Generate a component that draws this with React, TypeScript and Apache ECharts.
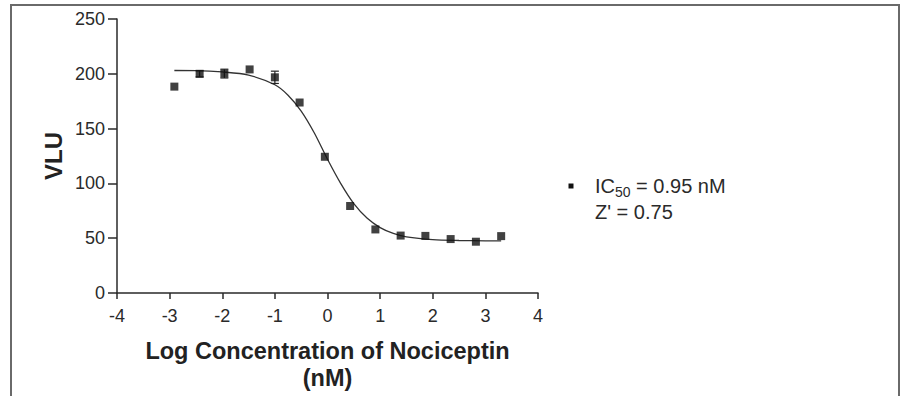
import React, { useEffect, useRef } from "react";
import * as echarts from "echarts";

const xValues = [-2.91, -2.43, -1.96, -1.48, -1.0, -0.53, -0.05, 0.43, 0.91, 1.39, 1.86, 2.34, 2.82, 3.3];
const yValues = [188.3, 200, 200.2, 204, 196.8, 173.8, 124.3, 79.4, 58, 52.4, 52.1, 49.2, 46.8, 51.9];

const errX = [-2.43, -1.96, -1.0];
const errLow = [197.2, 196.2, 191.2];
const errHigh = [202.8, 204.2, 202.4];

const curveX = [-2.91, -2.5, -2, -1.5, -1, -0.75, -0.5, -0.25, 0, 0.25, 0.5, 0.75, 1, 1.25, 1.5, 2, 2.5, 3, 3.3];
const curveY = [203, 202.9, 201.7, 198.8, 190, 180.5, 166, 146, 122, 100, 81.5, 68.4, 59.7, 54.4, 51.3, 48.7, 47.9, 47.6, 47.5];

const xTicks = { min: -4, max: 4, interval: 1 };
const yTicks = { min: 0, max: 250, interval: 50 };

const xTitle = "Log Concentration of Nociceptin\n(nM)";
const yTitle = "VLU";
const legendLine1 = "IC{sub|50} = 0.95 nM";
const legendLine2 = "Z' = 0.75";

const FONT = "'Liberation Sans', Arial, sans-serif";

export default function App() {
  const ref = useRef<HTMLDivElement>(null);
  useEffect(() => {
    if (!ref.current) return;
    const chart = echarts.init(ref.current, undefined, { renderer: "svg" });
    const points = xValues.map((x, i) => [x, yValues[i]]);
    const curve = curveX.map((x, i) => [x, curveY[i]]);
    const errs = errX.map((x, i) => [x, errLow[i], errHigh[i]]);
    chart.setOption({
      animation: false,
      backgroundColor: "#ffffff",
      textStyle: { fontFamily: FONT },
      grid: { left: 117, right: 367, top: 19, bottom: 95, containLabel: false },
      xAxis: {
        type: "value",
        min: xTicks.min,
        max: xTicks.max,
        interval: xTicks.interval,
        splitLine: { show: false },
        axisLine: { onZero: false, lineStyle: { color: "#2a2a2a", width: 1.5 } },
        axisTick: { show: true, length: 6, lineStyle: { color: "#2a2a2a", width: 1.5 } },
        axisLabel: { color: "#2a2a2a", fontSize: 18, margin: 14, fontFamily: FONT },
        name: xTitle,
        nameLocation: "middle",
        nameGap: 44,
        nameTextStyle: { fontSize: 23.5, fontWeight: "bold", color: "#222", lineHeight: 27, fontFamily: FONT },
      },
      yAxis: {
        type: "value",
        min: yTicks.min,
        max: yTicks.max,
        interval: yTicks.interval,
        splitLine: { show: false },
        axisLine: { show: true, onZero: false, lineStyle: { color: "#2a2a2a", width: 1.5 } },
        axisTick: { show: true, length: 9, lineStyle: { color: "#2a2a2a", width: 1.5 } },
        axisLabel: { color: "#2a2a2a", fontSize: 18, margin: 12, fontFamily: FONT },
        name: yTitle,
        nameLocation: "middle",
        nameGap: 52,
        nameTextStyle: { fontSize: 24, fontWeight: "bold", color: "#222", fontFamily: FONT },
      },
      series: [
        {
          type: "line",
          data: curve,
          smooth: 0.3,
          showSymbol: false,
          symbol: "none",
          lineStyle: { color: "#333", width: 1.3 },
          z: 2,
        },
        {
          type: "custom",
          data: errs,
          renderItem: (params: any, api: any) => {
            const x = api.value(0);
            const lo = api.coord([x, api.value(1)]);
            const hi = api.coord([x, api.value(2)]);
            const w = 4;
            const style = { stroke: "#222", lineWidth: 1.2 };
            return {
              type: "group",
              children: [
                { type: "line", shape: { x1: lo[0], y1: lo[1], x2: hi[0], y2: hi[1] }, style },
                { type: "line", shape: { x1: lo[0] - w, y1: lo[1], x2: lo[0] + w, y2: lo[1] }, style },
                { type: "line", shape: { x1: hi[0] - w, y1: hi[1], x2: hi[0] + w, y2: hi[1] }, style },
              ],
            };
          },
          z: 3,
        },
        {
          type: "scatter",
          data: points,
          symbol: "rect",
          symbolSize: 8,
          itemStyle: { color: "#111" },
          z: 4,
        },
      ],
      graphic: [
        {
          type: "rect",
          shape: { x: 11, y: 5, width: 888, height: 420 },
          style: { fill: "none", stroke: "#6a6a6a", lineWidth: 2 },
          silent: true,
        },
        {
          type: "rect",
          shape: { x: 568.5, y: 183.5, width: 5, height: 5 },
          style: { fill: "#111" },
        },
        {
          type: "text",
          x: 595,
          y: 186,
          style: {
            text: legendLine1,
            font: `20px ${FONT}`,
            fill: "#2a2a2a",
            verticalAlign: "middle",
            rich: {
              sub: { fontSize: 14, fontFamily: FONT, fill: "#2a2a2a", padding: [11, 0, 0, 0] },
            },
          },
        },
        {
          type: "text",
          x: 595,
          y: 212,
          style: { text: legendLine2, font: `20px ${FONT}`, fill: "#2a2a2a", verticalAlign: "middle" },
        },
      ],
    });
    return () => chart.dispose();
  }, []);
  return (
    <div
      ref={ref}
      style={{ position: "fixed", left: 0, top: 0, width: 905, height: 396, background: "#fff" }}
    />
  );
}
